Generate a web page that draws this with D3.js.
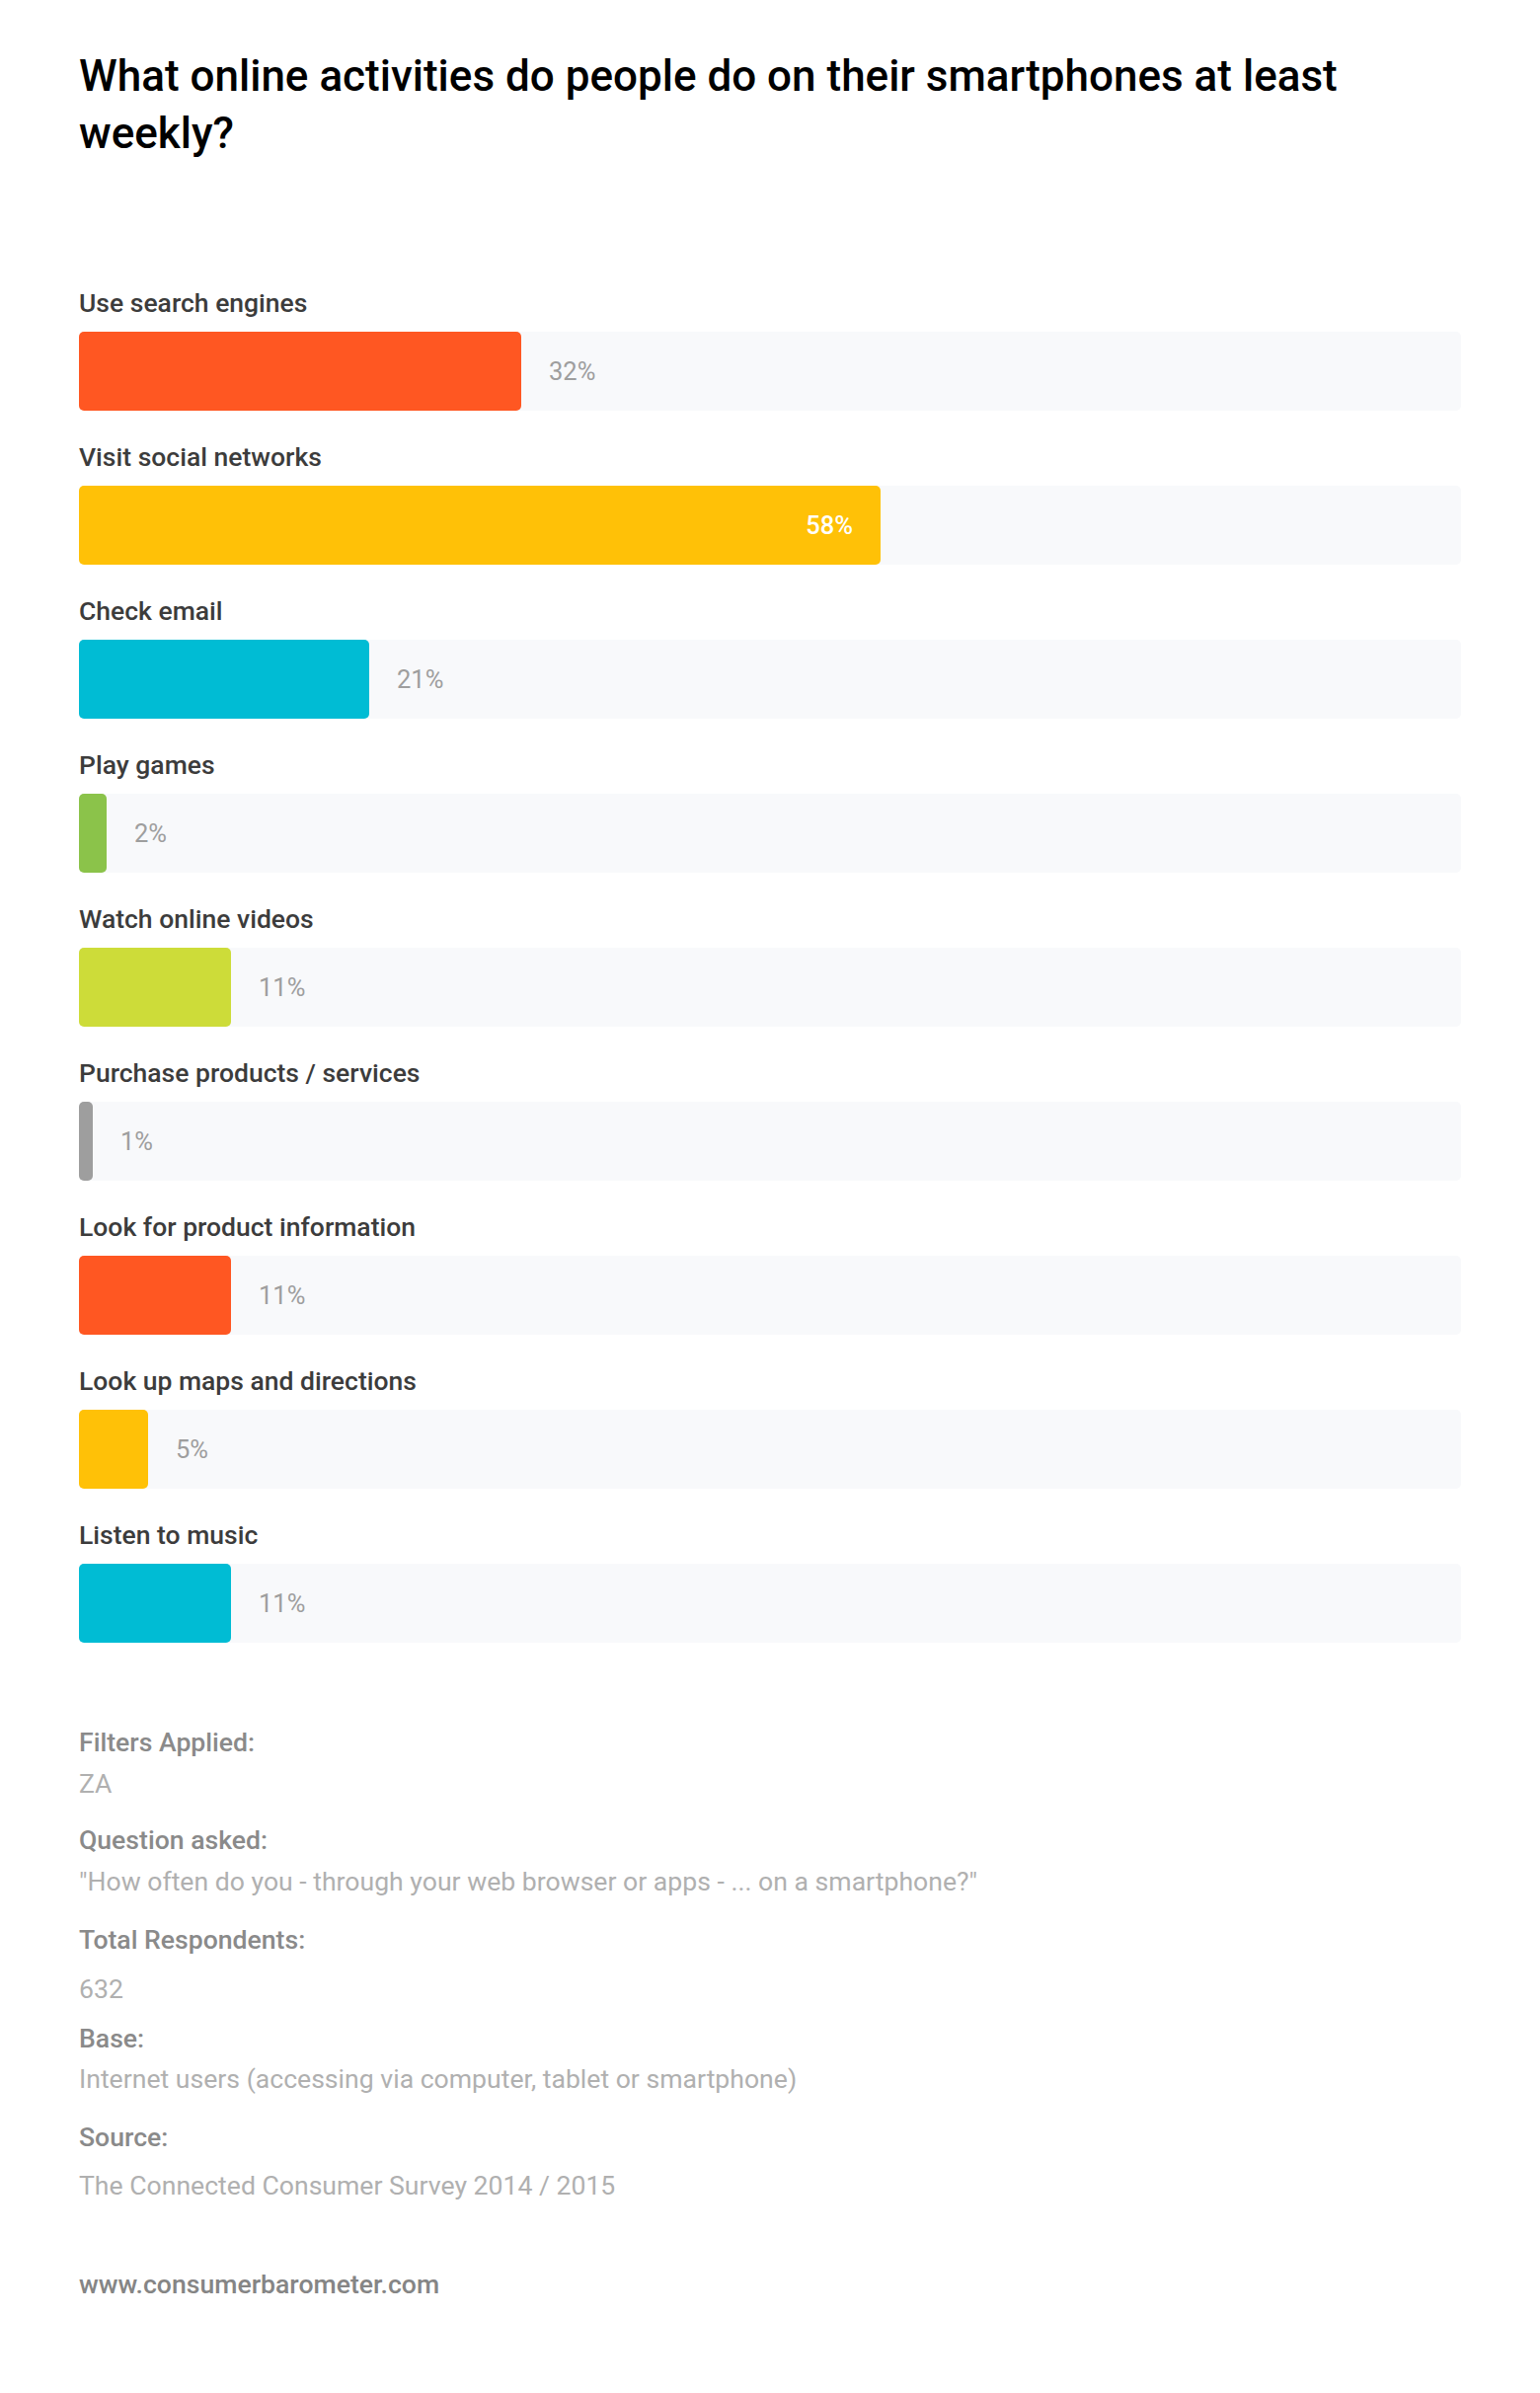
<!DOCTYPE html>
<html>
<head>
<meta charset="utf-8">
<script src="https://cdn.jsdelivr.net/npm/d3@7"></script>
<style>
  body { margin: 0; background: #fff; }
  svg { display: block; font-family: Roboto, "Noto Sans", sans-serif; }
</style>
</head>
<body>
<svg id="chart" width="1560" height="2424"></svg>
<script>
const titleLines = ["What online activities do people do on their smartphones at least", "weekly?"];

const activities = [
  "Use search engines",
  "Visit social networks",
  "Check email",
  "Play games",
  "Watch online videos",
  "Purchase products / services",
  "Look for product information",
  "Look up maps and directions",
  "Listen to music"
];
const shares = [32, 58, 21, 2, 11, 1, 11, 5, 11];

const palette = ["#ff5722", "#ffc107", "#00bcd4", "#8bc34a", "#cddc39", "#9e9e9e", "#ff5722", "#ffc107", "#00bcd4"];

const footerHeads = ["Filters Applied:", "Question asked:", "Total Respondents:", "Base:", "Source:"];
const footerValues = [
  "ZA",
  "\"How often do you - through your web browser or apps - ... on a smartphone?\"",
  "632",
  "Internet users (accessing via computer, tablet or smartphone)",
  "The Connected Consumer Survey 2014 / 2015"
];
const siteUrl = "www.consumerbarometer.com";

const svg = d3.select("#chart");
svg.append("rect").attr("width", 1560).attr("height", 2424).attr("fill", "#fff");

// title
svg.append("g").selectAll("text")
  .data(titleLines)
  .join("text")
  .attr("x", 80)
  .attr("y", (d, i) => 92 + i * 58)
  .attr("font-size", 44)
  .attr("font-weight", 500)
  .attr("fill", "#000")
  .text(d => d);

const rows = activities.map((name, i) => ({ name, value: shares[i], color: palette[i] }));

const x = d3.scaleLinear().domain([0, 100]).range([80, 1480]);
const y = d3.scaleBand()
  .domain(activities)
  .range([336, 1664])
  .paddingInner(76 / 156)
  .paddingOuter(0);
const bh = y.bandwidth();

const g = svg.append("g").selectAll(".row")
  .data(rows)
  .join("g")
  .attr("class", "row")
  .attr("transform", d => `translate(0, ${y(d.name)})`);

// background track
g.append("rect")
  .attr("x", x(0))
  .attr("width", x(100) - x(0))
  .attr("height", bh)
  .attr("rx", 5)
  .attr("fill", "#f8f9fb");

g.append("rect")
  .attr("x", x(0))
  .attr("width", d => x(d.value) - x(0))
  .attr("height", bh)
  .attr("rx", 5)
  .attr("fill", d => d.color);

g.append("text")
  .attr("x", 80)
  .attr("y", -20)
  .attr("font-size", 26.5)
  .attr("font-weight", 500)
  .attr("fill", "#3c3c3c")
  .text(d => d.name);

g.append("text")
  .attr("x", d => d.value > 50 ? x(d.value) - 28 : x(d.value) + 28)
  .attr("y", bh / 2)
  .attr("dy", "0.35em")
  .attr("text-anchor", d => d.value > 50 ? "end" : "start")
  .attr("font-size", 25.5)
  .attr("font-weight", d => d.value > 50 ? 500 : 400)
  .attr("fill", d => d.value > 50 ? "#fff" : "#9e9e9e")
  .text(d => d.value + "%");

// footer notes
const headY = [1774, 1873, 1974, 2074, 2174];
const valueY = [1816, 1915, 2024, 2115, 2223];
const foot = svg.append("g");
foot.selectAll(".fh")
  .data(footerHeads)
  .join("text")
  .attr("class", "fh")
  .attr("x", 80)
  .attr("y", (d, i) => headY[i])
  .attr("font-size", 26.6)
  .attr("font-weight", 500)
  .attr("fill", "#8a8a8a")
  .text(d => d);
foot.selectAll(".fv")
  .data(footerValues)
  .join("text")
  .attr("class", "fv")
  .attr("x", 80)
  .attr("y", (d, i) => valueY[i])
  .attr("font-size", 26.6)
  .attr("fill", "#b0b0b0")
  .text(d => d);

svg.append("text")
  .attr("x", 80)
  .attr("y", 2323)
  .attr("font-size", 26.6)
  .attr("font-weight", 500)
  .attr("fill", "#858585")
  .text(siteUrl);
</script>
</body>
</html>
